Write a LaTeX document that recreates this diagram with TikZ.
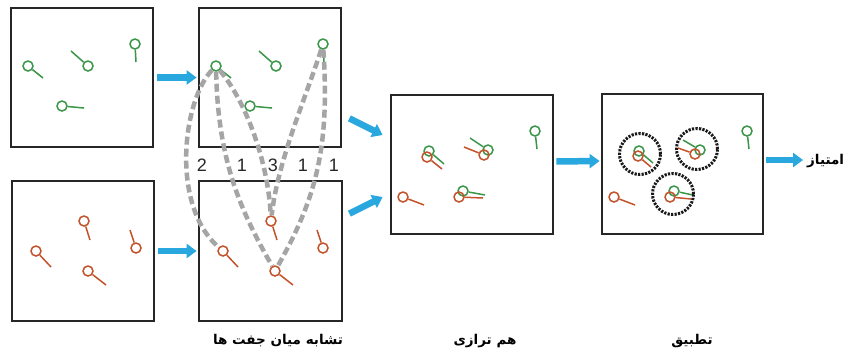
\documentclass[tikz,border=0pt]{standalone}
\usepackage{fontspec}
\setmainfont{Liberation Sans}
\newfontfamily\arabicfont[Script=Arabic]{DejaVu Sans}
\TeXXeTstate=1
\usetikzlibrary{arrows.meta,calc}
\definecolor{pgreen}{RGB}{58,150,72}
\definecolor{pred}{RGB}{196,82,42}
\definecolor{pblue}{RGB}{41,168,224}
\definecolor{pgray}{RGB}{165,165,165}
\tikzset{
  frame/.style={draw=black!85, line width=2.8pt, inner sep=0pt, rectangle},
  head/.style={circle, draw, line width=1.5pt, minimum size=10pt, inner sep=0pt},
  stem/.style={line width=1.5pt},
  flow/.style={draw=pblue, line width=6.5pt, -{Triangle[length=10pt,width=14pt]}},
  match/.style={draw=pgray, line width=4.5pt, dash pattern=on 8pt off 4pt},
  ring/.style={circle, draw=black!90, line width=3pt, dash pattern=on 2.2pt off 1.3pt, inner sep=0pt, minimum size=41pt},
  num/.style={font=\fontsize{18}{18}\selectfont, text=black!85, inner sep=0pt},
  steplabel/.style={font=\arabicfont\bfseries\fontsize{13.5}{13.5}\selectfont, inner sep=0pt}
}
\newcommand\pinat[4]{\node[head,draw=#2] (#1) at (#3) {}; \draw[stem,#2] (#1) -- (#4);}
\begin{document}
\begin{tikzpicture}[x=1pt,y=-1pt]
\useasboundingbox (0,0) rectangle (852,354);
\fill[white] (0,0) rectangle (852,354);
% frames
\node[frame, minimum width=142pt, minimum height=139pt] (b1) at (82,77.5) {};
\node[frame, minimum width=142pt, minimum height=139pt] (b2) at (270,77.5) {};
\node[frame, minimum width=142pt, minimum height=140pt] (b3) at (83,251) {};
\node[frame, minimum width=143pt, minimum height=140pt] (b4) at (270.5,251) {};
\node[frame, minimum width=162pt, minimum height=139pt] (b5) at (472,164.5) {};
\node[frame, minimum width=161pt, minimum height=140pt] (b6) at (682.5,164) {};
% box 1
\pinat{g1a}{pgreen}{28,66}{43,78}
\pinat{g1b}{pgreen}{88,66}{71,51}
\pinat{g1c}{pgreen}{135,44}{136,62}
\pinat{g1d}{pgreen}{62,106}{84,108}
% box 2
\pinat{g2a}{pgreen}{216,66}{231,78}
\pinat{g2b}{pgreen}{276,66}{259,51}
\pinat{g2c}{pgreen}{323,44}{324,62}
\pinat{g2d}{pgreen}{250,106}{272,108}
% box 3
\pinat{o3e}{pred}{36,251}{51,267}
\pinat{o3f}{pred}{84,221}{90,240}
\pinat{o3g}{pred}{136,248}{130,230}
\pinat{o3h}{pred}{88,271}{106,285}
% box 4
\pinat{o4e}{pred}{223,251}{238,267}
\pinat{o4f}{pred}{271,221}{277,240}
\pinat{o4g}{pred}{323,248}{317,230}
\pinat{o4h}{pred}{275,271}{293,285}
% box 5
\pinat{g5a}{pgreen}{429,151}{444,164}
\pinat{o5a}{pred}{427,157}{442,169}
\pinat{g5b}{pgreen}{488,150}{470,138}
\pinat{o5b}{pred}{484,155}{464,147}
\pinat{g5c}{pgreen}{535,131}{537,149}
\pinat{o5d}{pred}{403,197}{424,205}
\pinat{g5e}{pgreen}{463,191}{485,195}
\pinat{o5e}{pred}{459,197}{483,198}
% box 6
\pinat{g6a}{pgreen}{639,151}{653,163}
\pinat{o6a}{pred}{638,156}{651,167}
\pinat{g6b}{pgreen}{700,150}{683,140}
\pinat{o6b}{pred}{695,154}{678,148}
\pinat{g6e}{pgreen}{674,191}{693,195}
\pinat{o6e}{pred}{670,197}{691,199}
\pinat{g6c}{pgreen}{747,131}{749,149}
\pinat{o6d}{pred}{614,197}{635,205}
\node[ring] (r1) at (640,154) {};
\node[ring] (r2) at (697,149) {};
\node[ring] (r3) at (673,194) {};
% matching lines
\draw[match] (g2a) .. controls (183,100) and (170,205) .. (o4e);
\draw[match] (g2a) .. controls (218,160) and (240,210) .. (o4h);
\draw[match] (g2a) .. controls (245,100) and (268,160) .. (o4f);
\draw[match] (g2c) .. controls (305,100) and (278,160) .. (o4f);
\draw[match] (g2c) .. controls (330,150) and (315,200) .. (o4h);
\node[num] (n1) at (202,165) {2};
\node[num] (n2) at (242,165) {1};
\node[num] (n3) at (273,165) {3};
\node[num] (n4) at (303,165) {1};
\node[num] (n5) at (334,165) {1};
% flow arrows
\draw[flow, shorten <=3pt, shorten >=1pt] (b1) -- (b2);
\draw[flow, shorten <=3pt, shorten >=1pt] (b3) -- (b4);
\draw[flow] ($(b2.south east)+(7,-30)$) -- ($(b5.west)+(-7,-29.5)$);
\draw[flow] ($(b4.north east)+(6,34)$) -- ($(b5.west)+(-7,32.5)$);
\draw[flow, shorten <=2pt, shorten >=1pt] ($(b5.east)+(0,-3)$) -- ($(b6.west)+(0,-3)$);
\node[steplabel, anchor=west] (score) at (807,161) {\beginR امتیاز\endR};
\draw[flow, shorten <=2pt, shorten >=4pt] ($(b6.east)+(0,-4)$) -- (score.west |- 0,160);
% captions
\node[steplabel] (c1) at (278,341) {\beginR تشابه میان جفت ها\endR};
\node[steplabel] (c2) at (485,341) {\beginR هم ترازی\endR};
\node[steplabel] (c3) at (692,341) {\beginR تطبیق\endR};
\end{tikzpicture}
\end{document}
